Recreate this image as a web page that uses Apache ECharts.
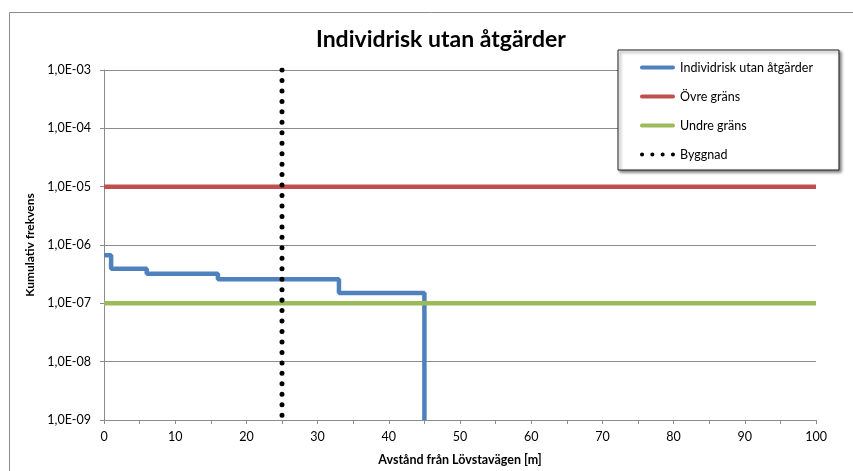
<!DOCTYPE html>
<html>
<head>
<meta charset="utf-8">
<script src="https://cdn.jsdelivr.net/npm/echarts@6/dist/echarts.min.js"></script>
<style>
    html,body{margin:0;padding:0;background:#fff;}
    #chart{width:853px;height:471px;}
</style>
</head>
<body>
<div id="chart"></div>
<script>
// avstånd (m) och kumulativ frekvens
var riskX = [0, 1, 6, 16, 33, 45];
var riskY = [6.7e-7, 3.9e-7, 3.2e-7, 2.6e-7, 1.5e-7, 1e-9];
var ovreX = [0, 100];
var ovreY = [1e-5, 1e-5];
var undreX = [0, 100];
var undreY = [1e-7, 1e-7];
var byggnadX = [25, 25];
var byggnadY = [1e-3, 1e-9];

var seriesNames = ['Individrisk utan åtgärder', 'Övre gräns', 'Undre gräns', 'Byggnad'];

var font = "Lato, 'Open Sans', sans-serif";

// legendikoner: heldragen linje resp. fyra prickar
var lineIcon = 'path://M2,0 L34,0 A2,2 0 0 1 34,4 L2,4 A2,2 0 0 1 2,0 Z';
var dotIcon = 'path://M0,2 A2,2 0 1 1 4,2 A2,2 0 1 1 0,2 Z M10,2 A2,2 0 1 1 14,2 A2,2 0 1 1 10,2 Z'
    + ' M20,2 A2,2 0 1 1 24,2 A2,2 0 1 1 20,2 Z M30,2 A2,2 0 1 1 34,2 A2,2 0 1 1 30,2 Z';

function pairs(xs, ys) {
    var arr = [];
    for (var i = 0; i < xs.length; i++) {
        arr.push([xs[i], ys[i]]);
    }
    return arr;
}

function expLabel(v) {
    var e = Math.round(Math.log10(v));
    var s = e < 0 ? '-' : '+';
    var a = Math.abs(e);
    return '1,0E' + s + (a < 10 ? '0' + a : a);
}

var chart = echarts.init(document.getElementById('chart'));
var option = {
    animation: false,
    textStyle: { fontFamily: font },
    title: {
        text: 'Individrisk utan åtgärder',
        left: 311,
        top: 23,
        textStyle: { fontSize: 23, fontWeight: 'bold', color: '#000', fontFamily: font }
    },
    graphic: [{
        type: 'rect',
        shape: { x: 9.5, y: 12.5, width: 900, height: 520 },
        style: { fill: 'none', stroke: '#8c8c8c', lineWidth: 1 },
        silent: true
    }],
    legend: {
        orient: 'vertical',
        left: 618,
        top: 50,
        padding: [11, 26, 9, 22],
        itemWidth: 35,
        itemHeight: 5,
        itemGap: 16,
        backgroundColor: '#fff',
        borderColor: '#222',
        borderWidth: 1,
        shadowColor: 'rgba(0,0,0,0.5)',
        shadowBlur: 3,
        shadowOffsetX: 2,
        shadowOffsetY: 2,
        textStyle: { fontSize: 12.5, color: '#000', fontFamily: font },
        data: [
            { name: seriesNames[0], icon: lineIcon },
            { name: seriesNames[1], icon: lineIcon },
            { name: seriesNames[2], icon: lineIcon },
            { name: seriesNames[3], icon: dotIcon }
        ]
    },
    grid: { left: 104, right: 37, top: 70, bottom: 51, outerBoundsMode: 'none' },
    xAxis: {
        type: 'value',
        min: 0,
        max: 100,
        interval: 10,
        name: 'Avstånd från Lövstavägen [m]',
        nameLocation: 'middle',
        nameGap: 33,
        nameTextStyle: { fontSize: 12.5, fontWeight: 'bold', color: '#000' },
        axisLine: { lineStyle: { color: '#8c8c8c' } },
        axisTick: { length: 4, lineStyle: { color: '#8c8c8c' } },
        minorTick: { show: true, splitNumber: 2, length: 4, lineStyle: { color: '#8c8c8c' } },
        axisLabel: { fontSize: 12.5, color: '#000', margin: 10 },
        splitLine: { show: false }
    },
    yAxis: {
        type: 'log',
        logBase: 10,
        min: 1e-9,
        max: 1e-3,
        name: 'Kumulativ frekvens',
        nameLocation: 'middle',
        nameGap: 68,
        nameTextStyle: { fontSize: 12, fontWeight: 'bold', color: '#000' },
        axisLine: { show: true, lineStyle: { color: '#8c8c8c' } },
        axisTick: { show: true, length: 4, lineStyle: { color: '#8c8c8c' } },
        axisLabel: { fontSize: 12.5, color: '#000', margin: 13, formatter: expLabel },
        splitLine: { show: true, lineStyle: { color: '#8c8c8c', width: 1 } }
    },
    series: [{
        name: seriesNames[0],
        type: 'line',
        step: 'end',
        symbol: 'none',
        data: pairs(riskX, riskY),
        color: '#4f81bd',
        lineStyle: { width: 4.5, color: '#4f81bd' }
    }, {
        name: seriesNames[1],
        type: 'line',
        symbol: 'none',
        data: pairs(ovreX, ovreY),
        color: '#c0504d',
        lineStyle: { width: 4.5, color: '#c0504d' }
    }, {
        name: seriesNames[2],
        type: 'line',
        symbol: 'none',
        data: pairs(undreX, undreY),
        color: '#9bbb59',
        lineStyle: { width: 4.5, color: '#9bbb59' }
    }, {
        name: seriesNames[3],
        type: 'line',
        symbol: 'none',
        data: pairs(byggnadX, byggnadY),
        color: '#000',
        lineStyle: { width: 5, color: '#000', type: [0.01, 10.45], cap: 'round' }
    }]
};
chart.setOption(option);
</script>
</body>
</html>
